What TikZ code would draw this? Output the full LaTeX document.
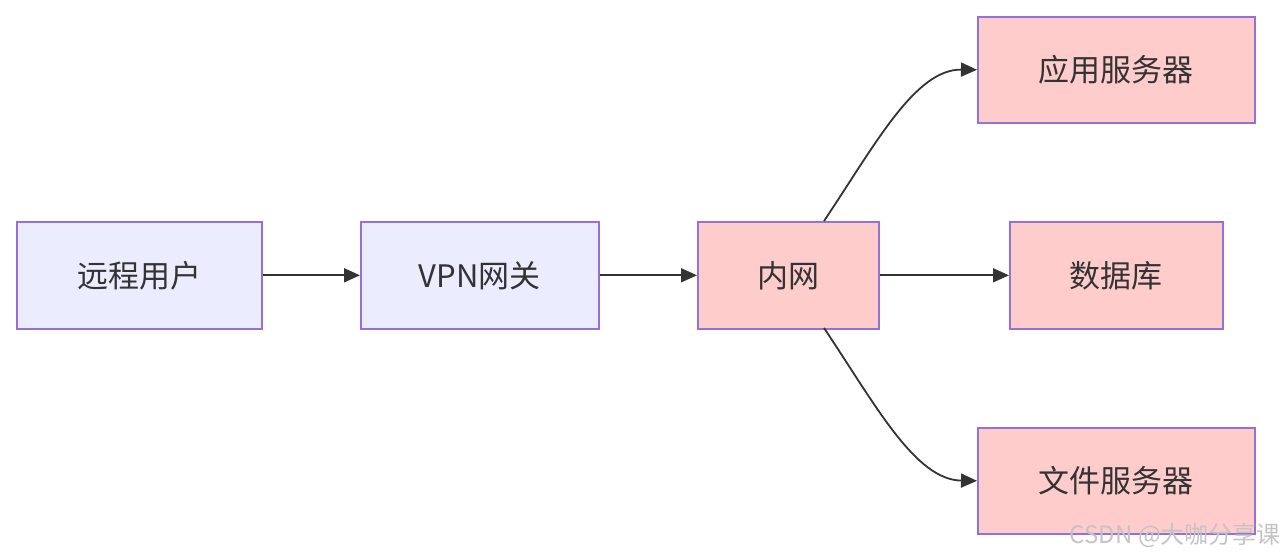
\documentclass[tikz,border=0pt]{standalone}
\usepackage{fontspec}
\setmainfont{Noto Sans CJK SC}
\usetikzlibrary{arrows.meta}
\definecolor{bluefill}{HTML}{ECECFF}
\definecolor{redfill}{HTML}{FFCCCC}
\definecolor{boxline}{HTML}{9370DB}
\definecolor{txt}{HTML}{333333}
\definecolor{wm}{HTML}{C4C4C4}
\begin{document}
\begin{tikzpicture}[x=1pt,y=-1pt,
  box/.style={draw=boxline,line width=1.6pt,text=txt,font=\fontsize{31}{35}\selectfont,inner sep=0pt,anchor=north west},
  bbox/.style={box,fill=bluefill},
  rbox/.style={box,fill=redfill},
  link/.style={draw=txt,line width=1.8pt,-{Triangle[length=16pt,width=14pt]}}]
\useasboundingbox (0,0) rectangle (1286,556);
\node[bbox,minimum width=245pt,minimum height=107pt] (user) at (16,221) {远程用户};
\node[bbox,minimum width=238pt,minimum height=107pt] (vpn) at (360,221) {VPN网关};
\node[rbox,minimum width=181pt,minimum height=107pt] (lan) at (697,221) {内网};
\node[rbox,minimum width=277pt,minimum height=106pt] (app) at (977,16) {应用服务器};
\node[rbox,minimum width=213pt,minimum height=107pt] (db) at (1009,221) {数据库};
\node[rbox,minimum width=277pt,minimum height=106pt] (file) at (977,427) {文件服务器};
\coordinate (lt) at (824,221);
\coordinate (lb) at (824,328);
\draw[link] (user.east) -- (vpn.west);
\draw[link] (vpn.east) -- (lan.west);
\draw[link] (lan.east) -- (db.west);
\draw[link] (lt) .. controls (875,145) and (915,69) .. (app.west);
\draw[link] (lb) .. controls (875,404) and (915,480) .. (file.west);
\node[text=wm,font=\fontsize{24}{28}\selectfont,anchor=east,inner sep=0pt] (mark) at (1281,535) {CSDN @大咖分享课};
\end{tikzpicture}
\end{document}
